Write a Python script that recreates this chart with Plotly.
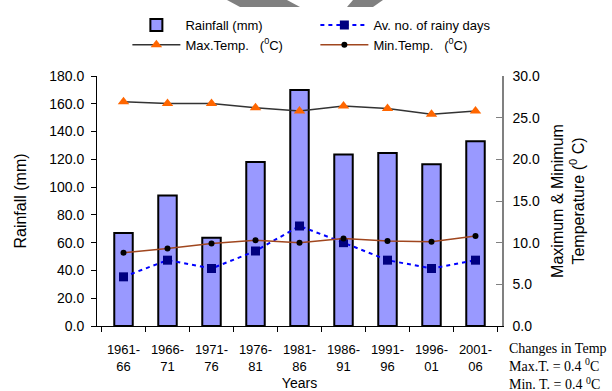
import plotly.graph_objects as go

periods = ["1961-<br>66", "1966-<br>71", "1971-<br>76", "1976-<br>81", "1981-<br>86",
           "1986-<br>91", "1991-<br>96", "1996-<br>01", "2001-<br>06"]
rainfall = [67.0, 94.0, 63.5, 118.0, 170.0, 123.5, 124.5, 116.5, 133.0]
rainy_days = [5.9, 7.9, 6.9, 9.0, 12.0, 10.0, 7.9, 6.9, 7.9]
max_temp = [26.9, 26.7, 26.7, 26.2, 25.8, 26.4, 26.1, 25.4, 25.8]
min_temp = [8.8, 9.3, 9.9, 10.3, 10.0, 10.5, 10.2, 10.1, 10.8]

FONT = "Liberation Sans, Arial, sans-serif"

fig = go.Figure()
fig.add_trace(go.Bar(
    x=periods, y=rainfall, name="Rainfall (mm)", width=0.42,
    marker=dict(color="#9999FF", line=dict(color="black", width=2)),
))
fig.add_trace(go.Scatter(
    x=periods, y=rainy_days, name="Av. no. of rainy days", yaxis="y2",
    mode="lines+markers",
    line=dict(color="#0000FF", width=2, dash="4px,4px"),
    marker=dict(symbol="square", size=9, color="#000080"),
))
fig.add_trace(go.Scatter(
    x=periods, y=max_temp, name="Max.Temp.&nbsp;&nbsp; (<sup>0</sup>C)", yaxis="y2",
    mode="lines+markers",
    line=dict(color="#333333", width=1.5),
    marker=dict(symbol="triangle-up", size=10, color="#FF6600"),
))
fig.add_trace(go.Scatter(
    x=periods, y=min_temp, name="Min.Temp.&nbsp;&nbsp; (<sup>0</sup>C)", yaxis="y2",
    mode="lines+markers",
    line=dict(color="#A0461E", width=1.5),
    marker=dict(symbol="circle", size=6, color="black"),
))

# decorative grey shapes at top
def px_x(p):
    return (p - 97) / 405.0

def px_y(p):
    return (326 - p) / 250.0

shapes = [
    dict(type="path", xref="paper", yref="paper",
         path=f"M{px_x(227)},{px_y(0)} L{px_x(287)},{px_y(0)} L{px_x(300)},{px_y(7)} L{px_x(240)},{px_y(7)} Z",
         fillcolor="#808080", line=dict(width=0)),
    dict(type="path", xref="paper", yref="paper",
         path=f"M{px_x(353)},{px_y(0)} L{px_x(383)},{px_y(0)} L{px_x(373)},{px_y(7)} L{px_x(347)},{px_y(7)} Z",
         fillcolor="#808080", line=dict(width=0)),
]

fig.update_layout(
    width=612, height=391,
    margin=dict(l=97, r=110, t=76, b=65, autoexpand=False),
    paper_bgcolor="white", plot_bgcolor="white",
    font=dict(family=FONT, color="black", size=13),
    showlegend=True,
    legend=dict(
        orientation="h", x=0.075, y=px_y(10), xanchor="left", yanchor="top",
        entrywidth=125, entrywidthmode="pixels", itemwidth=48,
        font=dict(size=13, family=FONT), traceorder="normal",
        bgcolor="rgba(0,0,0,0)",
    ),
    shapes=shapes,
    xaxis=dict(
        type="category", showline=True, linecolor="black", linewidth=1,
        ticks="outside", ticklen=5, tickcolor="black", tickson="boundaries",
        tickfont=dict(size=13), ticklabelstandoff=11, showgrid=False, automargin=False,
        title=dict(text="Years", font=dict(size=14), standoff=12),
    ),
    yaxis=dict(
        range=[0, 180], dtick=20, tickformat=".1f", showline=True, linecolor="black",
        ticks="outside", ticklen=5, tickcolor="black", showgrid=False, zeroline=False,
        tickfont=dict(size=14), ticklabelstandoff=4, automargin=False,
        title=dict(text="Rainfall (mm)", font=dict(size=16), standoff=18),
    ),
    yaxis2=dict(
        range=[0, 30], dtick=5, tickformat=".1f", overlaying="y", side="right",
        showline=True, linecolor="#808080", linewidth=1.5,
        ticks="inside", ticklen=6, tickcolor="#808080", showgrid=False, zeroline=False,
        tickfont=dict(size=14), ticklabelstandoff=6, automargin=False,
        title=dict(text="Maximum & Minimum<br>Temperature (<sup>0</sup> C)", font=dict(size=16), standoff=13),
    ),
    annotations=[
        dict(xref="paper", yref="paper", x=px_x(507), y=px_y(339), xanchor="left", yanchor="top",
             align="left", showarrow=False,
             text="Changes in Temp<br>Max.T. = 0.4 <sup>0</sup>C<br>Min. T. = 0.4 <sup>0</sup>C",
             font=dict(family="Liberation Serif, Times New Roman, serif", size=14, color="black")),
    ],
)

fig.write_html("out.html")
